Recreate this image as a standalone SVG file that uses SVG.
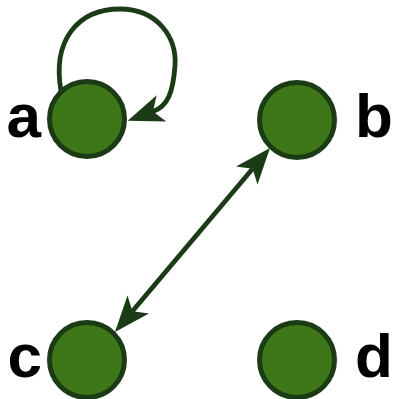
<svg xmlns="http://www.w3.org/2000/svg" width="394" height="399" viewBox="0 0 394 399">
  <style>
    .node { fill: #3e7718; stroke: #1b3b16; stroke-width: 5; }
    .label { font-family: "Liberation Sans", Arial, sans-serif; font-weight: bold; font-size: 62px; fill: #000; }
    .edge { fill: none; stroke: #1b3b16; stroke-width: 4.8; }
  </style>
  <defs>
    <marker id="arrow" markerUnits="userSpaceOnUse" markerWidth="60" markerHeight="60" viewBox="-20 -30 60 60" refX="0" refY="0" orient="auto-start-reverse" overflow="visible">
      <path d="M27,0 L-9,-14 L0,0 L-9,14 Z" fill="#1b3b16"/>
    </marker>
  </defs>
  <g id="edges">
    <path id="edge-a-a" class="edge" d="M61,91 C52,40 78,9 120,9 C158,9 177,38 175,66 C173,92 168,106 153,111.5" marker-end="url(#arrow)"/>
    <path id="edge-b-c" class="edge" d="M132.4,311.3 L252.6,168.7" marker-start="url(#arrow)" marker-end="url(#arrow)"/>
  </g>
  <g id="node-a">
    <circle class="node" cx="87" cy="119" r="37.5"/>
    <text class="label" x="41" y="137" text-anchor="end">a</text>
  </g>
  <g id="node-b">
    <circle class="node" cx="297" cy="120" r="37.5"/>
    <text class="label" x="355" y="137">b</text>
  </g>
  <g id="node-c">
    <circle class="node" cx="87" cy="360" r="37.5"/>
    <text class="label" x="42" y="377" text-anchor="end">c</text>
  </g>
  <g id="node-d">
    <circle class="node" cx="297" cy="360" r="37.5"/>
    <text class="label" x="355" y="377">d</text>
  </g>
</svg>
